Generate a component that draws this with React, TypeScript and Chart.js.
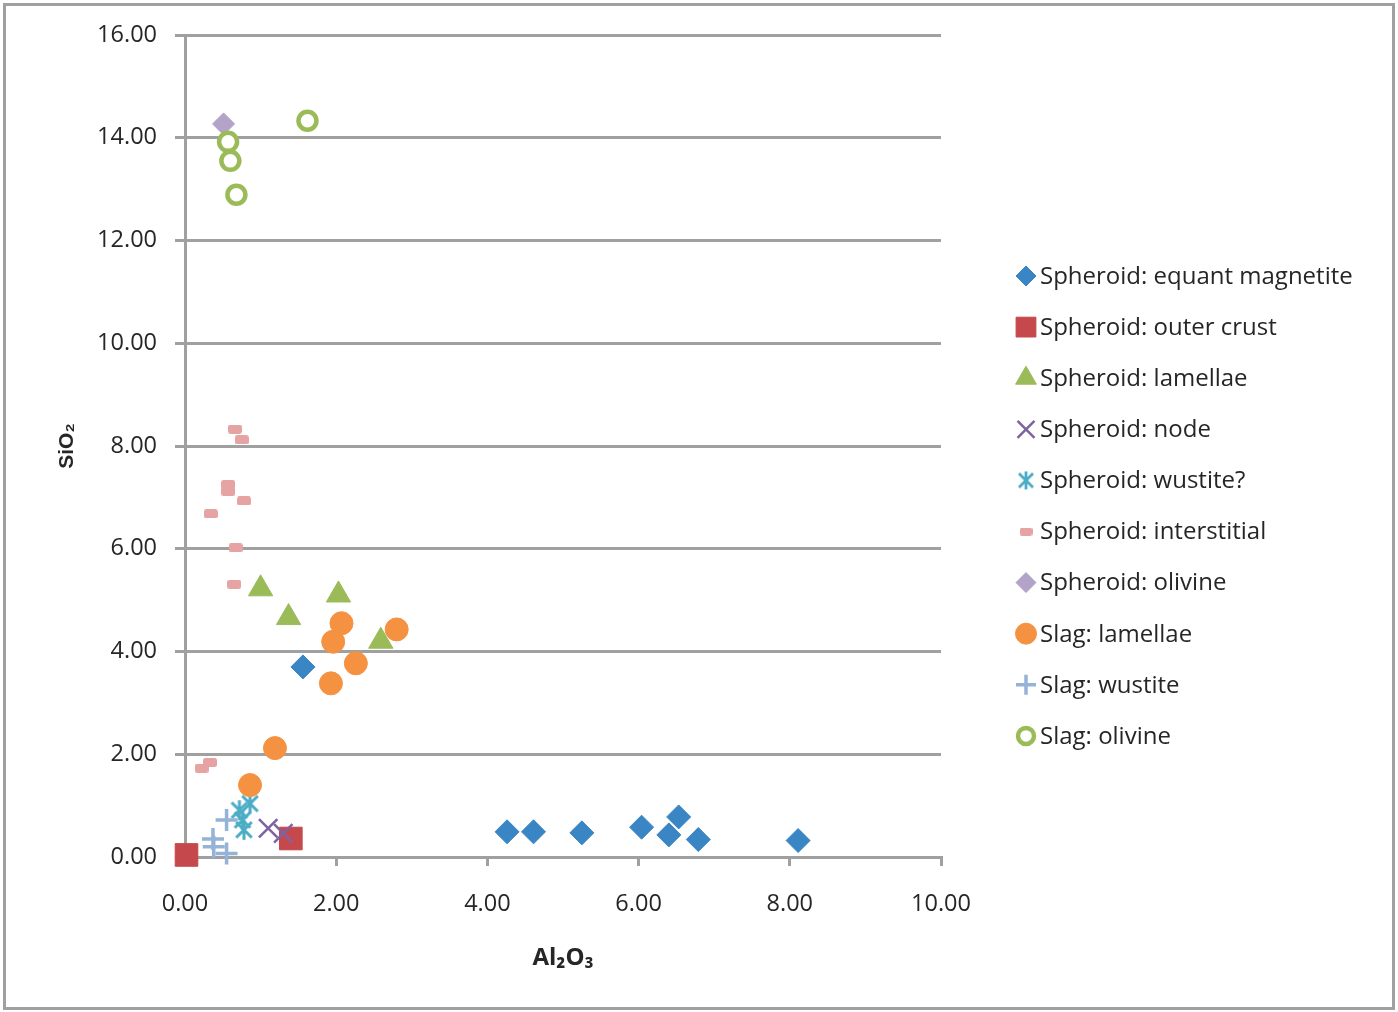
import React, { useEffect, useRef } from 'react';
import { Chart, registerables } from 'chart.js';
import { drawPoint } from 'chart.js/helpers';

Chart.register(...registerables);

// ---- Data ----
const seriesNames = [
  'Spheroid: equant magnetite',
  'Spheroid: outer crust',
  'Spheroid: lamellae',
  'Spheroid: node',
  'Spheroid: wustite?',
  'Spheroid: interstitial',
  'Spheroid: olivine',
  'Slag: lamellae',
  'Slag: wustite',
  'Slag: olivine',
];

const magnetiteX = [1.56, 4.26, 4.61, 5.25, 6.04, 6.53, 6.40, 6.79, 8.11];
const magnetiteY = [3.70, 0.49, 0.49, 0.47, 0.58, 0.78, 0.43, 0.34, 0.32];

const crustX = [0.02, 1.40];
const crustY = [0.04, 0.36];

const spLamellaeX = [1.00, 1.37, 2.03, 2.59];
const spLamellaeY = [5.22, 4.66, 5.10, 4.20];

const nodeX = [1.10, 1.30];
const nodeY = [0.56, 0.46];

const spWustiteX = [0.86, 0.72, 0.76, 0.78];
const spWustiteY = [1.04, 0.91, 0.72, 0.53];

const interstitialX = [0.66, 0.75, 0.57, 0.57, 0.78, 0.34, 0.67, 0.65, 0.33, 0.22];
const interstitialY = [8.33, 8.12, 7.25, 7.12, 6.93, 6.68, 6.02, 5.31, 1.84, 1.73];

const spOlivineX = [0.51];
const spOlivineY = [14.27];

const slagLamellaeX = [2.07, 1.96, 2.80, 2.26, 1.93, 1.19, 0.86];
const slagLamellaeY = [4.55, 4.19, 4.43, 3.77, 3.38, 2.12, 1.40];

const slagWustiteX = [0.55, 0.37, 0.38, 0.55];
const slagWustiteY = [0.72, 0.35, 0.20, 0.07];

const slagOlivineX = [0.57, 0.60, 0.68, 1.62];
const slagOlivineY = [13.92, 13.55, 12.89, 14.33];

const xTicks = [0, 2, 4, 6, 8, 10];
const yTicks = [0, 2, 4, 6, 8, 10, 12, 14, 16];

const seriesX = [magnetiteX, crustX, spLamellaeX, nodeX, spWustiteX, interstitialX, spOlivineX, slagLamellaeX, slagWustiteX, slagOlivineX];
const seriesY = [magnetiteY, crustY, spLamellaeY, nodeY, spWustiteY, interstitialY, spOlivineY, slagLamellaeY, slagWustiteY, slagOlivineY];

// ---- Styling ----
const FONT = '"Open Sans", "Noto Sans", sans-serif';
const TEXT = '#262626';
const GRID = '#a0a0a0';

function makeAsterisk(color: string, size: number, lw: number) {
  const c = document.createElement('canvas');
  c.width = size;
  c.height = size;
  const g = c.getContext('2d')!;
  g.strokeStyle = color;
  g.lineWidth = lw;
  const m = size / 2;
  const r = size / 2 - 1;
  const d = r * 0.78;
  g.beginPath();
  g.moveTo(m, m - r);
  g.lineTo(m, m + r);
  g.moveTo(m - d, m - d);
  g.lineTo(m + d, m + d);
  g.moveTo(m + d, m - d);
  g.lineTo(m - d, m + d);
  g.stroke();
  return c;
}

function makeDash(color: string, w: number, h: number) {
  const c = document.createElement('canvas');
  c.width = w;
  c.height = h;
  const g = c.getContext('2d')!;
  g.fillStyle = color;
  g.beginPath();
  (g as any).roundRect ? (g as any).roundRect(0, 0, w, h, 2.5) : g.rect(0, 0, w, h);
  g.fill();
  return c;
}

export default function App() {
  const ref = useRef<HTMLCanvasElement>(null);

  useEffect(() => {
    if (!ref.current) return;
    const asterisk = makeAsterisk('#4bacc6', 22, 3);
    const asteriskLegend = makeAsterisk('#4bacc6', 20, 2.8);
    const dash = makeDash('#e6a3a3', 14, 9);
    const dashLegend = makeDash('#e6a3a3', 13, 8);

    const styles: any[] = [
      { pointStyle: 'rectRot', radius: 12, bg: '#3a86c4', bc: '#3a86c4', bw: 1, lr: 10 },
      { pointStyle: 'rect', radius: 16, bg: '#c5494c', bc: '#c5494c', bw: 1, lr: 14 },
      { pointStyle: 'triangle', radius: 14, bg: '#9bbb59', bc: '#9bbb59', bw: 1, lr: 12 },
      { pointStyle: 'crossRot', radius: 13, bg: '#7f63a1', bc: '#7f63a1', bw: 2.5, lr: 12 },
      { pointStyle: asterisk, radius: 11, bg: '#4bacc6', bc: '#4bacc6', bw: 3, lr: 10, legendStyle: asteriskLegend },
      { pointStyle: dash, radius: 7, bg: '#e6a3a3', bc: '#e6a3a3', bw: 1, lr: 6, legendStyle: dashLegend },
      { pointStyle: 'rectRot', radius: 11, bg: '#b3a3c9', bc: '#b3a3c9', bw: 1, lr: 10 },
      { pointStyle: 'circle', radius: 11.5, bg: '#f59242', bc: '#f59242', bw: 1, lr: 10.5 },
      { pointStyle: 'cross', radius: 11, bg: '#95b3d7', bc: '#95b3d7', bw: 3.5, lr: 10 },
      { pointStyle: 'circle', radius: 9, bg: '#ffffff', bc: '#9bbb59', bw: 4.5, lr: 8 },
    ];

    const n = seriesNames.length;
    const datasets = seriesNames.map((label, i) => ({
      label,
      data: seriesX[i].map((x, j) => ({ x, y: seriesY[i][j] })),
      showLine: false,
      pointStyle: styles[i].pointStyle,
      pointRadius: styles[i].radius,
      pointBackgroundColor: styles[i].bg,
      pointBorderColor: styles[i].bc,
      pointBorderWidth: styles[i].bw,
      order: n - i,
      clip: false as any,
    }));

    const borderPlugin = {
      id: 'outerBorder',
      beforeDraw(chart: any) {
        const ctx = chart.ctx;
        ctx.save();
        ctx.fillStyle = '#ffffff';
        ctx.fillRect(0, 0, chart.width, chart.height);
        ctx.strokeStyle = GRID;
        ctx.lineWidth = 3;
        ctx.strokeRect(4.5, 4.5, 1389, 1004);
        ctx.restore();
      },
    };

    const legendPlugin = {
      id: 'customLegend',
      afterDraw(chart: any) {
        const ctx = chart.ctx;
        ctx.save();
        seriesNames.forEach((name, i) => {
          const y = 276 + i * 51.1;
          const s = styles[i];
          ctx.fillStyle = s.bg;
          ctx.strokeStyle = s.bc;
          ctx.lineWidth = s.bw;
          drawPoint(ctx, { pointStyle: s.legendStyle || s.pointStyle, radius: s.lr, borderWidth: s.bw, rotation: 0 } as any, 1026, y);
          ctx.font = `24px ${FONT}`;
          ctx.textBaseline = 'middle';
          ctx.textAlign = 'left';
          ctx.fillStyle = TEXT;
          ctx.fillText(name, 1040, y + 1);
        });
        ctx.restore();
      },
    };

    const chart = new Chart(ref.current, {
      type: 'scatter',
      data: { datasets },
      plugins: [borderPlugin, legendPlugin],
      options: {
        animation: false,
        responsive: false,
        devicePixelRatio: 1,
        layout: { padding: { top: 35, right: 457, bottom: 0, left: 0 } },
        plugins: {
          legend: { display: false },
          tooltip: { enabled: false },
        },
        scales: {
          x: {
            type: 'linear',
            min: xTicks[0],
            max: xTicks[xTicks.length - 1],
            afterBuildTicks: (scale: any) => {
              scale.ticks = xTicks.map((v) => ({ value: v }));
            },
            afterFit: (scale: any) => {
              scale.height = 155;
            },
            ticks: {
              callback: (v: any) => Number(v).toFixed(2),
              font: { family: FONT, size: 23.5 },
              color: TEXT,
              padding: 24,
              maxRotation: 0,
            },
            grid: {
              display: true,
              drawOnChartArea: false,
              drawTicks: true,
              tickLength: 9,
              color: GRID,
              lineWidth: 3,
            },
            border: { display: true, color: GRID, width: 3 },
            title: {
              display: true,
              text: 'Al₂O₃',
              color: TEXT,
              font: { family: FONT, size: 24, weight: 'bold' },
              padding: { top: 0, bottom: 39 },
            },
          },
          y: {
            type: 'linear',
            min: yTicks[0],
            max: yTicks[yTicks.length - 1],
            afterBuildTicks: (scale: any) => {
              scale.ticks = yTicks.map((v) => ({ value: v }));
            },
            afterFit: (scale: any) => {
              scale.width = 185;
            },
            ticks: {
              callback: (v: any) => Number(v).toFixed(2),
              font: { family: FONT, size: 23.5 },
              color: TEXT,
              padding: 18,
            },
            grid: {
              display: true,
              drawOnChartArea: true,
              drawTicks: true,
              tickLength: 10,
              color: GRID,
              lineWidth: 3,
            },
            border: { display: true, color: GRID, width: 3 },
            title: {
              display: true,
              text: 'SiO₂',
              color: TEXT,
              font: { family: '"Liberation Sans", Arial, sans-serif', size: 21, weight: 'bold' },
              padding: { top: 55, bottom: 0 },
            },
          },
        },
      } as any,
    });

    return () => chart.destroy();
  }, []);

  return (
    <div style={{ position: 'absolute', left: 0, top: 0, width: 1398, height: 1012 }}>
      <canvas ref={ref} width={1398} height={1012} style={{ display: 'block' }} />
    </div>
  );
}
